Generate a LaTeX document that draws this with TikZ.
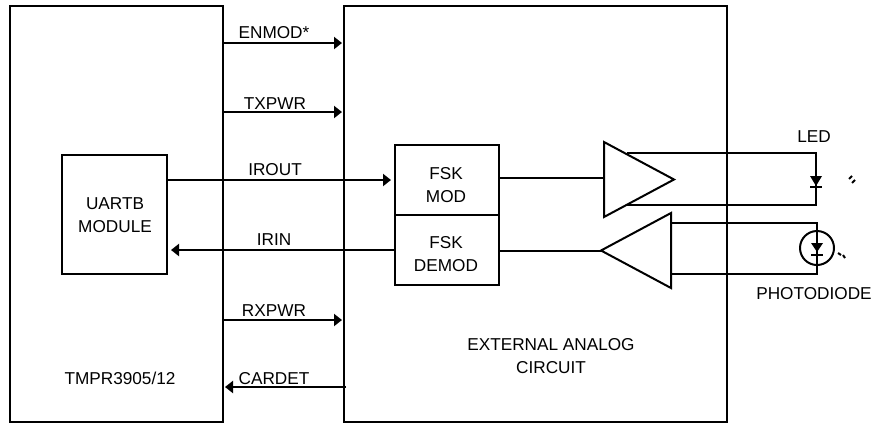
\documentclass[tikz,border=0pt]{standalone}
\usepackage{fontspec}
\setmainfont{Liberation Sans}
\usetikzlibrary{arrows.meta,positioning,shapes.geometric}
\tikzset{
  hwbox/.style={
    rectangle,
    draw=black,
    line width=2pt,
    inner sep=0pt,
    outer sep=0pt,
    align=center
  },
  ampbox/.style={
    isosceles triangle,
    isosceles triangle stretches,
    draw=black,
    line width=2pt,
    inner sep=0pt,
    outer sep=0pt,
    minimum width=75pt,
    minimum height=70pt
  },
  siglabel/.style={font=\fontsize{17.2}{23}\selectfont, inner sep=0pt, align=center},
  sigarrow/.style={-{Triangle[length=8pt,width=12pt]}, line width=2pt, draw=black},
  sigwire/.style={line width=2pt, draw=black, line join=miter},
  rayline/.style={line width=2pt, draw=black}
}

\begin{document}
\begin{tikzpicture}[x=1pt,y=-1pt]
\useasboundingbox (0,0) rectangle (877,424);
\node[hwbox, anchor=north west, minimum width=213pt, minimum height=416pt] (chip) at (10,6) {};
\node[hwbox, anchor=north west, minimum width=383pt, minimum height=416pt] (analog) at (344,6) {};
\node[hwbox, anchor=north west, minimum width=105pt, minimum height=119pt] (uartb) at (62,155) {};
\node[hwbox, anchor=north west, minimum width=104pt, minimum height=70pt] (fskmod) at (395,145) {};
\node[hwbox, below=0pt of fskmod, minimum width=104pt, minimum height=70pt] (fskdemod) {};
\node[ampbox, shape border rotate=0, anchor=lower side] (amptx) at (604,179.5) {};
\node[ampbox, shape border rotate=180, anchor=lower side] (amprx) at (671,250.5) {};
\node[siglabel] (uartbname) at (115,215.5) {UARTB\\MODULE};
\node[siglabel] (fskmodname) at (446,185.5) {FSK\\MOD};
\node[siglabel] (fskdemodname) at (446,254) {FSK\\DEMOD};
\node[siglabel] (chipname) at (120,378) {TMPR3905/12};
\node[siglabel] (analogname) at (551,356.5) {EXTERNAL ANALOG\\CIRCUIT};
\node[siglabel] (ledname) at (814,137) {LED};
\node[siglabel] (pdname) at (814,294) {PHOTODIODE};
\node[siglabel] (enmod) at (274,33) {ENMOD*};
\node[siglabel] (txpwr) at (275,104) {TXPWR};
\node[siglabel] (irout) at (275,170) {IROUT};
\node[siglabel] (irin) at (274,240) {IRIN};
\node[siglabel] (rxpwr) at (274,311) {RXPWR};
\node[siglabel] (cardet) at (274,379) {CARDET};
\coordinate (ledtop) at (816,153);
\coordinate (ledbot) at (816,205);
\coordinate (pdtop) at (817,223);
\coordinate (pdbot) at (817,274);
\coordinate (txtop) at (627,153);
\coordinate (txbot) at (627,205);
\draw[sigarrow] ([yshift=-37pt]chip.north east) -- ([yshift=-37pt,xshift=-2pt]analog.north west);
\draw[sigarrow] ([yshift=-106pt]chip.north east) -- ([yshift=-106pt,xshift=-2pt]analog.north west);
\draw[sigarrow] ([yshift=-314pt]chip.north east) -- ([yshift=-314pt,xshift=-2pt]analog.north west);
\draw[sigarrow] ([yshift=-381pt,xshift=2pt]analog.north west) -- ([yshift=-381pt,xshift=2pt]chip.north east);
\draw[sigarrow] ([yshift=-25pt]uartb.north east) -- ([yshift=-35pt,xshift=-4pt]fskmod.north west);
\draw[sigarrow] (fskdemod.west) -- ([xshift=4pt]uartb.east |- fskdemod.west);
\draw[sigwire] ([yshift=-33pt]fskmod.north east) -- ([yshift=1.5pt]amptx.lower side);
\draw[sigwire] (fskdemod.east |- amprx.apex) -- (amprx.apex);
\draw[sigwire] (txtop) -- (ledtop) -- (ledbot) -- (txbot);
\draw[sigwire] (amprx.lower side |- pdtop) -- (pdtop) -- (pdbot) -- (amprx.lower side |- pdbot);
\fill (810,176) -- (822,176) -- (816,186) -- cycle;
\draw[rayline] (810,187) -- (822,187);
\draw[rayline] (849,179) -- (852,176);
\draw[rayline] (852,183) -- (855,180);
\draw[rayline] (817,248) circle (17);
\fill (811,243) -- (823,243) -- (817,252) -- cycle;
\draw[rayline] (811,255) -- (823,255);
\draw[rayline] (838,253) -- (841,255);
\draw[rayline] (843,255) -- (845,258);
\end{tikzpicture}
\end{document}
